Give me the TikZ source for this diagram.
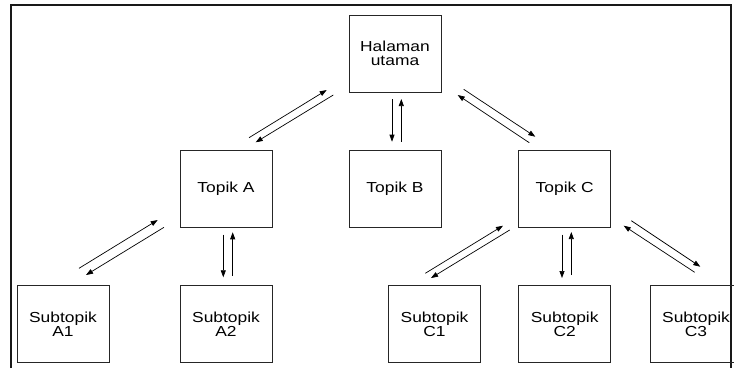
\documentclass[tikz,border=0pt]{standalone}
\usepackage{fontspec}
\setmainfont{Liberation Sans}[FakeStretch=1.2]
\usetikzlibrary{arrows.meta}
\begin{document}
\begin{tikzpicture}[x=1pt,y=-1pt,
  pagebox/.style={draw=black!85,line width=1pt,minimum width=92pt,minimum height=77pt,
    inner sep=0pt,align=center,font=\fontsize{14.5}{14}\selectfont},
  link/.style={line width=0.7pt,-{Triangle[length=7pt,width=5pt]}},
  frameline/.style={line width=1.2pt,black!90}]
\useasboundingbox (0,0) rectangle (734,368);
\fill[white] (0,0) rectangle (734,368);
\draw[frameline] (11,368) -- (11,5) -- (731,5) -- (731,368);

\node[pagebox] (H) at (395,53.5) {Halaman\\utama};
\node[pagebox] (A) at (226,188.5) {Topik A};
\node[pagebox] (B) at (395,188.5) {Topik B};
\node[pagebox] (C) at (564.7,188.5) {Topik C};
\node[pagebox] (A1) at (63,324) {Subtopik\\A1};
\node[pagebox] (A2) at (226,324) {Subtopik\\A2};
\node[pagebox] (C1) at (434.5,324) {Subtopik\\C1};
\node[pagebox] (C2) at (564.7,324) {Subtopik\\C2};
\node[pagebox] (C3) at (696,324) {Subtopik\\C3};

% H - A
\coordinate (ha1) at (249,137.7); \coordinate (ha2) at (326.7,90);
\coordinate (ha3) at (333.3,95); \coordinate (ha4) at (255.7,142.3);
\draw[link] (ha1) -- (ha2);
\draw[link] (ha3) -- (ha4);
% H - B
\coordinate (hb1) at (392,99); \coordinate (hb2) at (392,141.7);
\coordinate (hb3) at (401.3,141.7); \coordinate (hb4) at (401.3,99);
\draw[link] (hb1) -- (hb2);
\draw[link] (hb3) -- (hb4);
% H - C
\coordinate (hc1) at (463.7,89.3); \coordinate (hc2) at (535.3,136.7);
\coordinate (hc3) at (529.3,142.7); \coordinate (hc4) at (457.7,95);
\draw[link] (hc1) -- (hc2);
\draw[link] (hc3) -- (hc4);
% A - A1
\coordinate (aa1) at (79,268.3); \coordinate (aa2) at (157.7,220);
\coordinate (aa3) at (164,227.3); \coordinate (aa4) at (86,275);
\draw[link] (aa1) -- (aa2);
\draw[link] (aa3) -- (aa4);
% A - A2
\coordinate (ab1) at (223.3,234.7); \coordinate (ab2) at (223.3,277.3);
\coordinate (ab3) at (232.7,275.7); \coordinate (ab4) at (232.7,232.3);
\draw[link] (ab1) -- (ab2);
\draw[link] (ab3) -- (ab4);
% C - C1
\coordinate (ca1) at (425.3,273.3); \coordinate (ca2) at (503,225.7);
\coordinate (ca3) at (509.7,230); \coordinate (ca4) at (431,278);
\draw[link] (ca1) -- (ca2);
\draw[link] (ca3) -- (ca4);
% C - C2
\coordinate (cb1) at (562,234.7); \coordinate (cb2) at (562,278);
\coordinate (cb3) at (571.3,275); \coordinate (cb4) at (571.3,232);
\draw[link] (cb1) -- (cb2);
\draw[link] (cb3) -- (cb4);
% C - C3
\coordinate (cc1) at (631.3,220.7); \coordinate (cc2) at (700.3,266.7);
\coordinate (cc3) at (694.7,272.3); \coordinate (cc4) at (623.7,225.7);
\draw[link] (cc1) -- (cc2);
\draw[link] (cc3) -- (cc4);
\end{tikzpicture}
\end{document}
